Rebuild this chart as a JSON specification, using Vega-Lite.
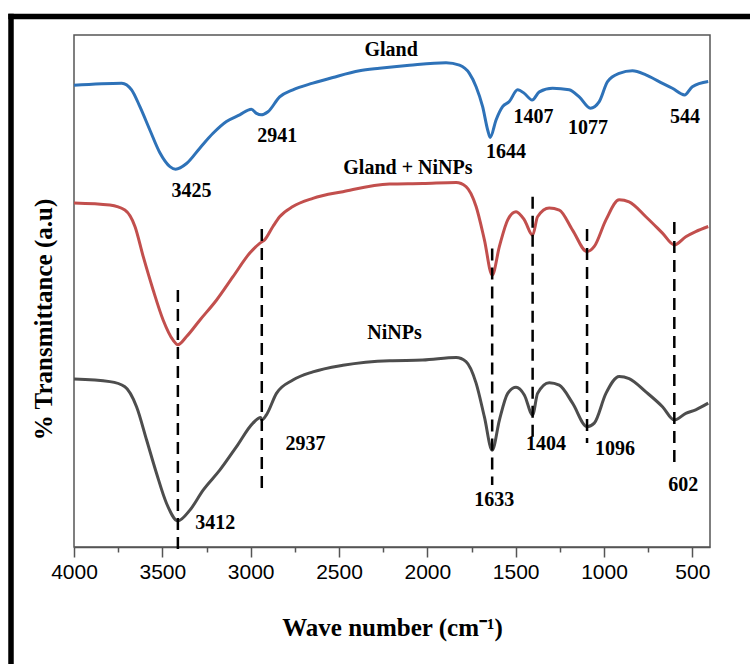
{
  "$schema": "https://vega.github.io/schema/vega-lite/v6.json",
  "width": 636,
  "height": 512,
  "autosize": {"type": "none"},
  "padding": {"left": 74, "top": 35, "right": 40, "bottom": 117},
  "background": "white",
  "config": {
    "view": {"stroke": "#555555", "strokeWidth": 1.5},
    "axis": {"grid": false}
  },
  "resolve": {
    "scale": {"x": "independent", "y": "independent"},
    "axis": {"x": "independent", "y": "independent"}
  },
  "layer": [
    {
      "encoding": {
        "x": {
          "field": "wn",
          "type": "quantitative",
          "scale": {"domain": [400, 4000], "reverse": true, "nice": false, "zero": false},
          "axis": {
            "orient": "bottom",
            "values": [4000, 3750, 3500, 3250, 3000, 2750, 2500, 2250, 2000, 1750, 1500, 1250, 1000, 750, 500],
            "format": "d",
            "labelExpr": "datum.value % 500 === 0 ? datum.label : ''",
            "tickSize": {"condition": {"test": "datum.value % 500 === 0", "value": 10}, "value": 5},
            "tickColor": "#555555",
            "tickWidth": 1.5,
            "domainColor": "#555555",
            "domainWidth": 1.5,
            "labelFont": "Liberation Sans",
            "labelFontSize": 21,
            "labelColor": "black",
            "labelPadding": 4,
            "labelFlush": false,
            "labelOverlap": false,
            "title": "Wave number (cm⁻¹)",
            "titleFont": "Liberation Serif",
            "titleFontSize": 25,
            "titleFontWeight": "bold",
            "titleColor": "black",
            "titleY": 80,
            "titleBaseline": "middle",
            "grid": false
          }
        },
        "y": {
          "field": "t",
          "type": "quantitative",
          "scale": {"domain": [0, 100], "nice": false, "zero": false},
          "axis": {
            "orient": "left",
            "domain": false,
            "ticks": false,
            "labels": false,
            "grid": false,
            "title": "% Transmittance (a.u)",
            "titleFont": "Liberation Serif",
            "titleFontSize": 25,
            "titleFontWeight": "bold",
            "titleColor": "black",
            "titleX": -30.7,
            "titleY": 284,
            "titleAngle": -90,
            "titleAlign": "center",
            "titleBaseline": "middle"
          }
        }
      },
      "layer": [
        {
          "data": {
            "values": [
              {"series": "Gland", "wn": 4000, "t": 90.2},
              {"series": "Gland", "wn": 3730, "t": 90.6},
              {"series": "Gland", "wn": 3674, "t": 89.3},
              {"series": "Gland", "wn": 3627, "t": 86.0},
              {"series": "Gland", "wn": 3570, "t": 81.4},
              {"series": "Gland", "wn": 3514, "t": 77.0},
              {"series": "Gland", "wn": 3457, "t": 74.3},
              {"series": "Gland", "wn": 3425, "t": 73.8},
              {"series": "Gland", "wn": 3363, "t": 74.9},
              {"series": "Gland", "wn": 3288, "t": 77.9},
              {"series": "Gland", "wn": 3213, "t": 80.8},
              {"series": "Gland", "wn": 3137, "t": 83.1},
              {"series": "Gland", "wn": 3062, "t": 84.4},
              {"series": "Gland", "wn": 2996, "t": 85.5},
              {"series": "Gland", "wn": 2967, "t": 84.7},
              {"series": "Gland", "wn": 2941, "t": 84.4},
              {"series": "Gland", "wn": 2902, "t": 85.0},
              {"series": "Gland", "wn": 2836, "t": 87.9},
              {"series": "Gland", "wn": 2761, "t": 89.3},
              {"series": "Gland", "wn": 2648, "t": 90.6},
              {"series": "Gland", "wn": 2535, "t": 91.7},
              {"series": "Gland", "wn": 2384, "t": 93.0},
              {"series": "Gland", "wn": 2271, "t": 93.5},
              {"series": "Gland", "wn": 2101, "t": 94.1},
              {"series": "Gland", "wn": 1894, "t": 94.6},
              {"series": "Gland", "wn": 1818, "t": 94.1},
              {"series": "Gland", "wn": 1762, "t": 92.5},
              {"series": "Gland", "wn": 1724, "t": 89.9},
              {"series": "Gland", "wn": 1687, "t": 86.0},
              {"series": "Gland", "wn": 1658, "t": 81.4},
              {"series": "Gland", "wn": 1644, "t": 80.0},
              {"series": "Gland", "wn": 1611, "t": 83.4},
              {"series": "Gland", "wn": 1574, "t": 86.0},
              {"series": "Gland", "wn": 1536, "t": 87.0},
              {"series": "Gland", "wn": 1489, "t": 89.3},
              {"series": "Gland", "wn": 1451, "t": 88.6},
              {"series": "Gland", "wn": 1407, "t": 87.3},
              {"series": "Gland", "wn": 1366, "t": 88.9},
              {"series": "Gland", "wn": 1291, "t": 89.6},
              {"series": "Gland", "wn": 1197, "t": 89.3},
              {"series": "Gland", "wn": 1140, "t": 87.9},
              {"series": "Gland", "wn": 1077, "t": 85.7},
              {"series": "Gland", "wn": 1027, "t": 87.0},
              {"series": "Gland", "wn": 980, "t": 90.9},
              {"series": "Gland", "wn": 914, "t": 92.5},
              {"series": "Gland", "wn": 839, "t": 93.0},
              {"series": "Gland", "wn": 763, "t": 92.2},
              {"series": "Gland", "wn": 688, "t": 90.9},
              {"series": "Gland", "wn": 613, "t": 89.6},
              {"series": "Gland", "wn": 544, "t": 88.3},
              {"series": "Gland", "wn": 500, "t": 89.9},
              {"series": "Gland", "wn": 410, "t": 90.9},

              {"series": "Gland + NiNPs", "wn": 4000, "t": 67.2},
              {"series": "Gland + NiNPs", "wn": 3797, "t": 66.8},
              {"series": "Gland + NiNPs", "wn": 3712, "t": 65.8},
              {"series": "Gland + NiNPs", "wn": 3655, "t": 62.6},
              {"series": "Gland + NiNPs", "wn": 3608, "t": 56.7},
              {"series": "Gland + NiNPs", "wn": 3552, "t": 50.2},
              {"series": "Gland + NiNPs", "wn": 3495, "t": 44.3},
              {"series": "Gland + NiNPs", "wn": 3439, "t": 40.4},
              {"series": "Gland + NiNPs", "wn": 3412, "t": 39.5},
              {"series": "Gland + NiNPs", "wn": 3363, "t": 41.1},
              {"series": "Gland + NiNPs", "wn": 3288, "t": 44.3},
              {"series": "Gland + NiNPs", "wn": 3194, "t": 48.2},
              {"series": "Gland + NiNPs", "wn": 3100, "t": 52.8},
              {"series": "Gland + NiNPs", "wn": 3005, "t": 57.4},
              {"series": "Gland + NiNPs", "wn": 2949, "t": 59.3},
              {"series": "Gland + NiNPs", "wn": 2937, "t": 59.6},
              {"series": "Gland + NiNPs", "wn": 2921, "t": 60.0},
              {"series": "Gland + NiNPs", "wn": 2874, "t": 62.6},
              {"series": "Gland + NiNPs", "wn": 2836, "t": 64.5},
              {"series": "Gland + NiNPs", "wn": 2761, "t": 66.5},
              {"series": "Gland + NiNPs", "wn": 2648, "t": 68.1},
              {"series": "Gland + NiNPs", "wn": 2478, "t": 69.4},
              {"series": "Gland + NiNPs", "wn": 2214, "t": 70.9},
              {"series": "Gland + NiNPs", "wn": 2026, "t": 71.0},
              {"series": "Gland + NiNPs", "wn": 1837, "t": 71.2},
              {"series": "Gland + NiNPs", "wn": 1781, "t": 70.4},
              {"series": "Gland + NiNPs", "wn": 1724, "t": 66.5},
              {"series": "Gland + NiNPs", "wn": 1677, "t": 60.0},
              {"series": "Gland + NiNPs", "wn": 1633, "t": 53.1},
              {"series": "Gland + NiNPs", "wn": 1592, "t": 58.7},
              {"series": "Gland + NiNPs", "wn": 1545, "t": 63.9},
              {"series": "Gland + NiNPs", "wn": 1498, "t": 65.5},
              {"series": "Gland + NiNPs", "wn": 1451, "t": 63.9},
              {"series": "Gland + NiNPs", "wn": 1404, "t": 60.9},
              {"series": "Gland + NiNPs", "wn": 1376, "t": 64.5},
              {"series": "Gland + NiNPs", "wn": 1310, "t": 66.2},
              {"series": "Gland + NiNPs", "wn": 1253, "t": 65.8},
              {"series": "Gland + NiNPs", "wn": 1178, "t": 61.9},
              {"series": "Gland + NiNPs", "wn": 1096, "t": 57.7},
              {"series": "Gland + NiNPs", "wn": 1055, "t": 58.7},
              {"series": "Gland + NiNPs", "wn": 989, "t": 63.9},
              {"series": "Gland + NiNPs", "wn": 914, "t": 67.8},
              {"series": "Gland + NiNPs", "wn": 858, "t": 67.4},
              {"series": "Gland + NiNPs", "wn": 763, "t": 64.5},
              {"series": "Gland + NiNPs", "wn": 669, "t": 61.3},
              {"series": "Gland + NiNPs", "wn": 602, "t": 59.0},
              {"series": "Gland + NiNPs", "wn": 537, "t": 60.6},
              {"series": "Gland + NiNPs", "wn": 481, "t": 61.6},
              {"series": "Gland + NiNPs", "wn": 410, "t": 62.6},

              {"series": "NiNPs", "wn": 4000, "t": 32.8},
              {"series": "NiNPs", "wn": 3797, "t": 32.3},
              {"series": "NiNPs", "wn": 3712, "t": 31.3},
              {"series": "NiNPs", "wn": 3646, "t": 27.4},
              {"series": "NiNPs", "wn": 3589, "t": 20.9},
              {"series": "NiNPs", "wn": 3533, "t": 14.4},
              {"series": "NiNPs", "wn": 3476, "t": 8.5},
              {"series": "NiNPs", "wn": 3412, "t": 5.1},
              {"series": "NiNPs", "wn": 3344, "t": 7.2},
              {"series": "NiNPs", "wn": 3269, "t": 11.1},
              {"series": "NiNPs", "wn": 3175, "t": 15.0},
              {"series": "NiNPs", "wn": 3080, "t": 19.6},
              {"series": "NiNPs", "wn": 2987, "t": 24.2},
              {"series": "NiNPs", "wn": 2944, "t": 25.3},
              {"series": "NiNPs", "wn": 2937, "t": 24.8},
              {"series": "NiNPs", "wn": 2911, "t": 25.8},
              {"series": "NiNPs", "wn": 2854, "t": 30.0},
              {"series": "NiNPs", "wn": 2761, "t": 32.6},
              {"series": "NiNPs", "wn": 2648, "t": 34.2},
              {"series": "NiNPs", "wn": 2478, "t": 35.5},
              {"series": "NiNPs", "wn": 2214, "t": 36.4},
              {"series": "NiNPs", "wn": 2026, "t": 36.5},
              {"series": "NiNPs", "wn": 1837, "t": 37.0},
              {"series": "NiNPs", "wn": 1781, "t": 36.2},
              {"series": "NiNPs", "wn": 1724, "t": 32.0},
              {"series": "NiNPs", "wn": 1677, "t": 25.4},
              {"series": "NiNPs", "wn": 1633, "t": 18.9},
              {"series": "NiNPs", "wn": 1592, "t": 24.8},
              {"series": "NiNPs", "wn": 1545, "t": 30.0},
              {"series": "NiNPs", "wn": 1498, "t": 31.2},
              {"series": "NiNPs", "wn": 1451, "t": 29.7},
              {"series": "NiNPs", "wn": 1404, "t": 25.8},
              {"series": "NiNPs", "wn": 1376, "t": 30.0},
              {"series": "NiNPs", "wn": 1310, "t": 32.1},
              {"series": "NiNPs", "wn": 1253, "t": 31.6},
              {"series": "NiNPs", "wn": 1178, "t": 28.1},
              {"series": "NiNPs", "wn": 1096, "t": 23.5},
              {"series": "NiNPs", "wn": 1055, "t": 24.2},
              {"series": "NiNPs", "wn": 989, "t": 30.0},
              {"series": "NiNPs", "wn": 914, "t": 33.3},
              {"series": "NiNPs", "wn": 858, "t": 32.9},
              {"series": "NiNPs", "wn": 763, "t": 30.3},
              {"series": "NiNPs", "wn": 669, "t": 27.4},
              {"series": "NiNPs", "wn": 602, "t": 24.8},
              {"series": "NiNPs", "wn": 537, "t": 26.1},
              {"series": "NiNPs", "wn": 481, "t": 26.8},
              {"series": "NiNPs", "wn": 410, "t": 28.1}
            ]
          },
          "mark": {"type": "line", "strokeWidth": 3, "interpolate": "monotone"},
          "encoding": {
            "color": {
              "field": "series",
              "type": "nominal",
              "scale": {
                "domain": ["Gland", "Gland + NiNPs", "NiNPs"],
                "range": ["#2E72B8", "#C24F4D", "#4D4D4D"]
              },
              "legend": null
            }
          }
        },
        {
          "data": {
            "values": [
              {"wn": 3412, "t": 50.2, "t2": -1.2},
              {"wn": 2937, "t": 62.1, "t2": 10.5},
              {"wn": 1633, "t": 58.3, "t2": 12.1},
              {"wn": 1404, "t": 68.4, "t2": 21.5},
              {"wn": 1096, "t": 62.1, "t2": 20.3},
              {"wn": 602, "t": 63.5, "t2": 15.4}
            ]
          },
          "mark": {"type": "rule", "color": "black", "strokeWidth": 2.5, "strokeDash": [12, 7]},
          "encoding": {"y2": {"field": "t2"}}
        },
        {
          "data": {
            "values": [
              {"label": "Gland", "wn": 2205, "t": 97.0},
              {"label": "3425", "wn": 3335, "t": 69.6},
              {"label": "2941", "wn": 2850, "t": 80.3},
              {"label": "1644", "wn": 1555, "t": 77.1},
              {"label": "1407", "wn": 1399, "t": 83.9},
              {"label": "1077", "wn": 1090, "t": 81.9},
              {"label": "544", "wn": 542, "t": 84.0},
              {"label": "Gland + NiNPs", "wn": 2110, "t": 74.1},
              {"label": "NiNPs", "wn": 2186, "t": 41.8},
              {"label": "2937", "wn": 2690, "t": 20.1},
              {"label": "3412", "wn": 3200, "t": 4.7},
              {"label": "1633", "wn": 1621, "t": 9.2},
              {"label": "1404", "wn": 1329, "t": 20.1},
              {"label": "1096", "wn": 938, "t": 19.1},
              {"label": "602", "wn": 551, "t": 12.1}
            ]
          },
          "mark": {
            "type": "text",
            "font": "Liberation Serif",
            "fontSize": 20,
            "fontWeight": "bold",
            "color": "black",
            "align": "center",
            "baseline": "middle"
          },
          "encoding": {"text": {"field": "label"}}
        }
      ]
    },
    {
      "data": {"values": [{"bx": 0, "by": 0}]},
      "mark": {"type": "point", "opacity": 0},
      "encoding": {
        "x": {
          "field": "bx",
          "type": "quantitative",
          "scale": {"domain": [0, 1], "range": [-63.5, 680]},
          "axis": {
            "orient": "top",
            "offset": 19,
            "domainColor": "black",
            "domainWidth": 5.5,
            "domainCap": "square",
            "ticks": false,
            "labels": false,
            "grid": false,
            "title": null
          }
        },
        "y": {
          "field": "by",
          "type": "quantitative",
          "scale": {"domain": [0, 1], "range": [629, -19]},
          "axis": {
            "orient": "left",
            "offset": 63.5,
            "domainColor": "black",
            "domainWidth": 5.5,
            "domainCap": "square",
            "ticks": false,
            "labels": false,
            "grid": false,
            "title": null
          }
        }
      }
    }
  ]
}
